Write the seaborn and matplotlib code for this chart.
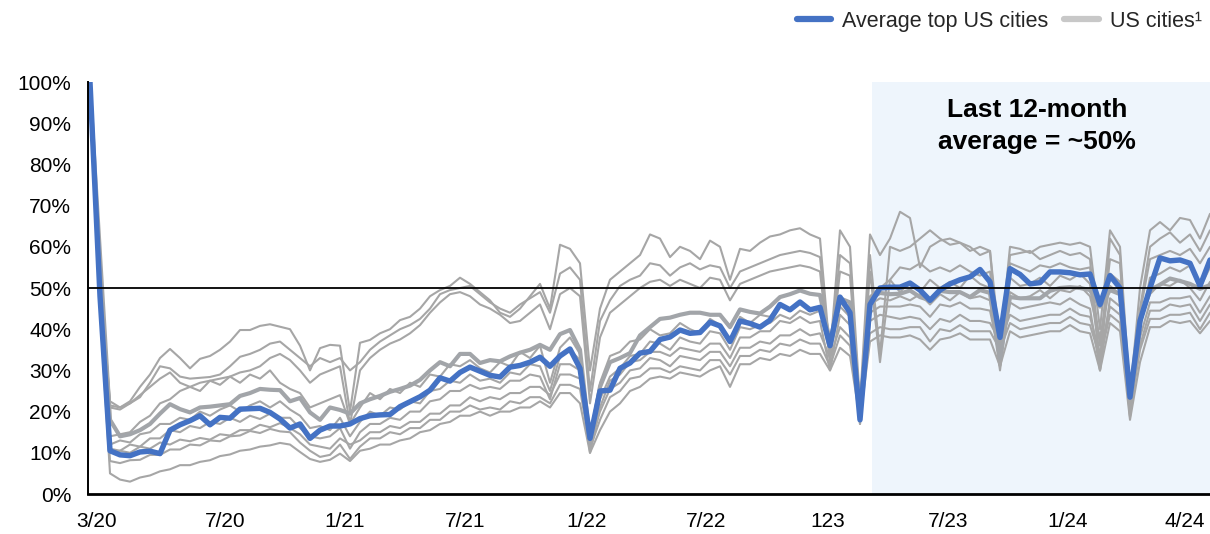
import numpy as np
import pandas as pd
import matplotlib
matplotlib.use("Agg")
import matplotlib.pyplot as plt
import seaborn as sns
from matplotlib.lines import Line2D
from matplotlib.ticker import FuncFormatter

sns.set_theme(style="white")
plt.rcParams['font.family'] = ['Liberation Sans', 'DejaVu Sans']

# ---- data: office occupancy vs. pre-pandemic baseline, % (bi-weekly periods) ----
period = np.arange(113)
tick_pos = [0.7, 13.5, 25.5, 37.5, 49.7, 61.6, 73.8, 85.8, 97.8, 109.5]
tick_labels = ['3/20', '7/20', '1/21', '7/21', '1/22', '7/22', '123', '7/23', '1/24', '4/24']
y_ticks = list(range(0, 101, 10))
last12_start = 78.2
reference_level = 50

avg_top = [100, 48, 10.5, 9.5, 9.3, 10.2, 10.4, 9.8, 15.5, 16.8,
           17.8, 19, 16.8, 18.6, 18.4, 20.6, 20.7, 20.8, 19.8, 18.2,
           16, 17, 13.5, 15.5, 16.5, 16.5, 17, 18.3, 19, 19.2,
           19.3, 21.2, 22.4, 23.6, 25.2, 28.2, 27.4, 29.5, 30.8, 29.8,
           28.8, 28.4, 30.8, 31.2, 32, 33.2, 31, 33.5, 35.2, 30.5,
           13.5, 25, 25.2, 30.5, 31.8, 34.2, 34.6, 37.5, 38.1, 39.8,
           39, 39.2, 41.7, 40.8, 37, 42, 41.4, 40.5, 42.2, 46,
           44.7, 46.6, 44.7, 45.3, 36, 47.8, 44, 18, 46, 50,
           50.2, 50.2, 51.2, 49.5, 47, 49.5, 51, 52, 52.7, 54.5,
           51.5, 38, 54.7, 53.3, 51, 51.3, 53.9, 53.9, 53.7, 53.2,
           53.4, 46, 53, 50, 23.5, 42, 50, 57.3, 56.6, 56.8,
           56, 50.5, 56.8]

us_city_1 = [100, 52, 22.5, 21, 22.5, 26, 29, 33, 35.2, 33,
             30.5, 32.8, 33.5, 35, 37, 39.8, 39.8, 40.8, 41.2, 40.6,
             40, 36, 30, 35.4, 36.2, 36, 20, 36.7, 37.4, 39,
             40, 42.2, 43, 45, 48, 49.5, 50.5, 52.5, 51, 49,
             47, 44, 43, 45, 48, 51, 45, 60.5, 59.5, 56,
             30, 45, 52, 54, 56, 58, 63, 62, 57.5, 60,
             59, 57, 61.5, 60, 52, 59.5, 59, 61, 62.5, 63,
             64, 64.5, 63, 62, 34, 64, 60, 22, 63, 58,
             62, 68.5, 67, 55, 60, 61.5, 62, 61, 60, 58,
             59, 36, 60, 59.5, 58.5, 60, 60.5, 61, 60.5, 61,
             60, 40, 64, 60, 24, 50, 64, 66, 64, 67,
             66.5, 62, 68]

us_city_2 = [100, 55, 21.5, 21, 22, 23.5, 27, 31, 30.5, 28.5,
             28, 28.2, 28.4, 29, 31, 33.3, 34, 35, 36.5, 37,
             35, 33, 31, 33, 32, 33, 30, 32, 35, 37,
             38.5, 40, 41, 42.5, 45, 48.5, 49.5, 50, 50.5, 48.5,
             46.5, 45, 44, 46, 47.5, 49, 44, 53.5, 55, 52,
             25, 42, 47, 50.5, 52, 53, 56, 55.5, 53, 55,
             56, 54.5, 55.5, 55, 50, 54, 55, 56, 57, 58,
             58.5, 59, 58.5, 57.5, 33, 58, 56, 20, 58, 34,
             60, 59, 60, 62, 64, 62, 60.5, 61, 59, 60,
             59, 31, 58, 58.5, 59, 57, 58, 59, 58, 58.5,
             57, 30, 62, 58, 20, 45, 60, 62, 63.5, 61,
             63, 59, 64]

us_city_3 = [99, 54, 21, 20.5, 22, 24, 26, 28, 29.5, 27,
             26, 27, 27.5, 28, 28.5, 29.5, 30, 31, 33, 34,
             32.5, 30, 27, 29, 30, 31, 17, 30, 33, 35,
             36.5, 37.5, 39, 41, 44, 46.5, 48.5, 49, 48, 46,
             45, 43.5, 41.5, 42, 44, 46, 40, 48.5, 50, 48,
             22, 38, 44, 46, 48, 50, 51.5, 52, 50.5, 52,
             51, 50, 52.5, 52, 47, 51, 52, 53, 54, 54.5,
             55, 55.5, 55, 54, 32, 54, 53, 21, 54, 32,
             52, 55, 54.5, 56, 54, 55, 54, 55.5, 54, 53,
             54, 34, 56, 55, 54, 55.5, 55, 56, 55, 54.5,
             55, 36, 57, 56, 22, 44, 57, 58, 59, 58,
             59.5, 56, 60]

us_city_4 = [100, 50, 14, 14.5, 15, 17.5, 19, 22, 23, 25,
             26, 25, 27.5, 26.5, 28.5, 27, 29, 28, 30, 27,
             25.5, 24.5, 21, 22, 23, 24, 17, 21, 24.5, 23,
             25.5, 24.5, 27, 26, 29, 28.5, 31.5, 31, 32.5, 30.5,
             29.5, 32, 31, 34.5, 33, 36, 27, 35.5, 38, 34,
             14, 27, 33.5, 34.5, 37, 37.5, 40, 38.5, 39, 41.5,
             40, 39, 42.5, 41, 37, 43, 41.5, 43.5, 43, 46,
             44.5, 46.5, 45, 45.5, 35, 46.5, 44, 18, 48, 50,
             52, 49, 51.5, 49, 52, 50, 51.5, 50, 53, 51,
             50, 31, 52.5, 50.5, 51, 52.5, 50.5, 53, 52, 53.5,
             51, 33, 53.5, 51.5, 22, 40, 52.5, 53.5, 55, 54,
             55.5, 50, 55]

us_city_5 = [99, 52, 12, 13, 12.5, 14.5, 15, 17, 17, 18.5,
             18, 20, 19, 20.5, 21.5, 20, 21.5, 22.5, 21, 22.5,
             20.5, 19, 16, 16.5, 15.5, 18.5, 14, 17.5, 20, 19,
             21, 20.5, 22.5, 22, 25, 25.5, 27.5, 27, 29, 27.5,
             28, 27, 29.5, 29, 31.5, 31, 25, 33.5, 35, 32.5,
             11, 23, 28.5, 30.5, 33.5, 34, 37, 36.5, 35, 38,
             37, 36.5, 39.5, 39, 35, 40.5, 40, 41, 41.5, 43.5,
             42.5, 44.5, 43.5, 44.5, 34, 45.5, 43, 17, 46, 47.5,
             47, 48, 47, 48.5, 46, 48.5, 47, 49, 47.5, 48,
             47, 30, 49, 47.5, 48, 49.5, 47.5, 49.5, 49, 50.5,
             48, 38, 50.5, 48.5, 19, 42, 48.5, 51, 50.5, 52,
             50, 47, 51.5]

us_city_6 = [100, 48, 11, 10.5, 12, 11.5, 13.5, 13.5, 15.5, 15,
             16.5, 16, 17.5, 17, 18.5, 17.5, 19, 18.2, 19.5, 18.5,
             18.5, 16, 14, 13.5, 14, 16, 11, 15, 17, 17,
             18.5, 18, 20, 20, 22.5, 23, 25, 25, 26.5, 25.5,
             26, 25.5, 27.5, 27.5, 29, 28.5, 23, 31.5, 31.5, 30,
             10, 21, 27.5, 29, 32, 32.5, 34.5, 34.5, 33.5, 35.5,
             35, 34.5, 36.5, 36.5, 33, 38, 38, 39.5, 39.5, 42,
             41.5, 43, 41.5, 42, 30, 43.5, 41, 17, 44, 45.5,
             45.5, 45.5, 46, 45.5, 43, 46, 45.5, 46.5, 45, 45,
             44.5, 33, 46.5, 45, 45.5, 46, 46.5, 46, 47.5, 46,
             45, 30, 47.5, 45.5, 18.7, 38, 46.5, 46.5, 47.5, 47.5,
             48, 44, 48]

us_city_7 = [99, 50, 10, 10.5, 10, 11.5, 11, 12.5, 12, 13.2,
             12.8, 13.6, 13.2, 14.5, 14.2, 15.5, 15.5, 16.8, 16.2, 17.2,
             16, 14.5, 12, 11.5, 11, 13.5, 12, 13, 15, 15,
             16.5, 16, 17.5, 17.5, 19.5, 19.5, 21.5, 21.5, 23.5, 22.5,
             23.5, 23, 24.5, 24.5, 26, 26, 24, 29, 29, 28,
             12, 20, 25.5, 27, 30, 30.5, 33, 32.5, 31, 33.5,
             33, 32.5, 34.5, 34.5, 31, 35.5, 35.5, 37, 36.5, 38.5,
             38.5, 40, 38.5, 39, 33, 40.5, 38, 20, 42, 43.5,
             43, 42.5, 43, 42.5, 40, 42.5, 41.8, 43.5, 42, 42,
             41.5, 37, 43.5, 42, 42.5, 43, 43.5, 43.5, 45, 43.5,
             43, 34, 45.5, 43.5, 21, 36, 44.5, 44.5, 46, 45.5,
             46, 42, 46]

us_city_8 = [98, 46, 8, 7.5, 8.2, 8.3, 9.5, 9.5, 10.8, 10.8,
             12, 11.8, 13, 12.8, 14, 14.2, 15.3, 14.8, 15.8, 15.2,
             15, 12.5, 10.5, 9, 9.5, 12, 8.5, 11.5, 13.5, 13.5,
             15, 14.5, 16, 16, 18, 18, 20, 20, 21.5, 20.5,
             21, 20.5, 22.5, 22, 23.5, 23.5, 22, 26.5, 26.5, 25.5,
             11, 18, 23.5, 25, 28, 28.5, 30.5, 30.5, 29.5, 31,
             30.5, 30, 32.5, 32.5, 29, 33.5, 33.5, 35, 34.5, 36.5,
             36, 37.5, 36.5, 36.5, 31, 38.5, 36, 19, 39, 40.5,
             40, 40, 40.5, 40.5, 37, 40, 39.5, 41, 39.5, 39.5,
             39.5, 35, 41.5, 40, 40.5, 41, 41.5, 41.5, 43, 41.5,
             41, 33, 43.5, 41.5, 20, 35, 42.5, 42.5, 43.5, 43.5,
             44, 40, 44]

us_city_9 = [97, 45, 5, 3.5, 3, 4, 4.5, 5.5, 6, 7,
             7, 7.8, 8.2, 9.2, 9.6, 10.5, 10.8, 11.5, 11.8, 12.4,
             12, 10.2, 8.5, 7.8, 8.3, 9.8, 8, 10.5, 11, 12,
             12, 13, 13.5, 15, 15.5, 17, 17.5, 19, 19, 20,
             19, 20, 20, 21, 21, 22.5, 21, 24.5, 24.5, 22,
             10, 15.5, 20, 22, 25, 26, 28, 28.5, 28, 29.5,
             29, 28.5, 30, 31, 26, 31.5, 31.5, 33, 32.5, 34,
             33.5, 35, 34, 34, 30, 35.5, 33.5, 18, 37, 38.5,
             38, 38, 38.5, 37.5, 35, 37.5, 38, 39, 37.5, 37.5,
             37.5, 31, 39.5, 38, 38.5, 39, 39.5, 39.5, 41, 39.5,
             39, 30, 41.5, 39.5, 18, 32, 40.5, 40.5, 42, 41.5,
             42, 39, 42]

us_city_10 = [98, 58, 18, 14, 14.5, 15.5, 17, 19.5, 21.8, 20.6,
              19.8, 21, 21.2, 21.5, 21.8, 23.8, 24.5, 25.5, 25.3, 25.2,
              22.5, 23.3, 19.8, 18, 21, 20.4, 19.5, 22, 23, 23.8,
              24.8, 25.5, 26.3, 27.7, 30, 32, 31, 34, 34, 31.8,
              32.5, 32.2, 33.4, 34.3, 35, 36.2, 35, 38.8, 39.8, 35,
              12.5, 26, 32, 33, 34.2, 38.5, 40.5, 42.5, 42.8, 43.5,
              44, 44, 43.5, 43.5, 40.5, 44.8, 44.2, 43.8, 45.5, 47.8,
              48.5, 49.4, 48.6, 48.3, 37, 47.5, 46.5, 19, 47.5, 48.8,
              48.5, 48.6, 49.4, 47.8, 47, 49.3, 49, 49, 47.8, 49.5,
              48.8, 33, 47.8, 47.5, 47.5, 47.5, 49.3, 50, 50.2, 50,
              49.5, 45.5, 49.5, 48.5, 24, 42, 49.5, 50.8, 52.3, 51.7,
              51, 49.8, 50.7]

thin_cities = {
    'City 1': us_city_1, 'City 2': us_city_2, 'City 3': us_city_3,
    'City 4': us_city_4, 'City 5': us_city_5, 'City 6': us_city_6,
    'City 7': us_city_7, 'City 8': us_city_8, 'City 9': us_city_9,
}
for vals in list(thin_cities.values()) + [us_city_10, avg_top]:
    assert len(vals) == len(period)

thin_df = pd.concat(
    [pd.DataFrame({'period': period, 'occupancy': vals, 'city': name})
     for name, vals in thin_cities.items()],
    ignore_index=True,
)

# ---- figure ----
W, H = 1210, 534
fig = plt.figure(figsize=(W / 100, H / 100), dpi=100)
ax = fig.add_axes([88 / W, 40 / H, 1122 / W, 412 / H])

ax.axvspan(last12_start, period[-1] + 1, color='#EEF5FC', lw=0, zorder=0)

sns.lineplot(data=thin_df, x='period', y='occupancy', units='city', estimator=None,
             color='#A6A6A6', lw=1.5, ax=ax, zorder=2, legend=False)
sns.lineplot(x=period, y=us_city_10, color='#A2A5A9', lw=3.0, ax=ax, zorder=3)
sns.lineplot(x=period, y=avg_top, color='#4472C4', lw=3.9, ax=ax, zorder=4)

ax.axhline(reference_level, color='black', lw=1.3, zorder=5)

ax.set_xlim(-0.2, period[-1])
ax.set_ylim(0, 100)
ax.set_yticks(y_ticks)
ax.yaxis.set_major_formatter(FuncFormatter(lambda v, _: f"{v:.0f}%"))
ax.set_xticks(tick_pos)
ax.set_xticklabels(tick_labels)
ax.set_xlabel('')
ax.set_ylabel('')
ax.tick_params(axis='y', length=0, labelsize=15, colors='black', pad=12)
ax.tick_params(axis='x', length=0, labelsize=15, colors='black', pad=13)
ax.grid(False)

for side in ['top', 'right']:
    ax.spines[side].set_visible(False)
ax.spines['left'].set_color('black')
ax.spines['left'].set_linewidth(1.4)
ax.spines['bottom'].set_color('black')
ax.spines['bottom'].set_linewidth(2.0)
ax.spines['left'].set_zorder(6)
ax.spines['bottom'].set_zorder(6)

ax.text(94.7, 89.3, "Last 12-month\naverage = ~50%", ha='center', va='center',
        fontsize=19, fontweight='bold', color='black', linespacing=1.42, zorder=6)

handles = [Line2D([], [], color='#4472C4', lw=4.5),
           Line2D([], [], color='#C8C8C8', lw=4.5)]
fig.legend(handles, ['Average top US cities', 'US cities¹'], loc='upper right',
           bbox_to_anchor=(1.009, 1.016), ncol=2, frameon=False, fontsize=15.5,
           handlelength=1.6, columnspacing=0.75, handletextpad=0.5)

fig.savefig('out.png', dpi=100)
